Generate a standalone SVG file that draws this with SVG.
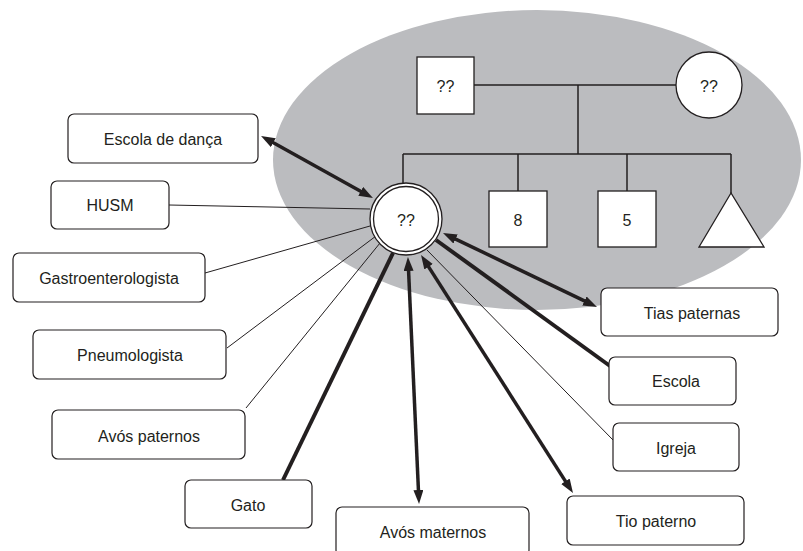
<svg xmlns="http://www.w3.org/2000/svg" width="803" height="551" viewBox="0 0 803 551">
<style>
.box{fill:#fff;stroke:#231f20;stroke-width:1.2}
.ped{fill:#fff;stroke:#231f20;stroke-width:1.3}
.pl{fill:none;stroke:#231f20;stroke-width:1.5}
.t{font-family:"Liberation Sans",Arial,sans-serif;font-size:16px;fill:#231f20;text-anchor:middle;dominant-baseline:central}
.thin{stroke:#231f20;stroke-width:1;fill:none}
.thick{stroke:#231f20;stroke-width:4;fill:none}
.arr{stroke:#231f20;stroke-width:3.5;fill:none;marker-start:url(#ah);marker-end:url(#ah)}
</style>
<defs>
<marker id="ah" markerUnits="userSpaceOnUse" markerWidth="16" markerHeight="12" refX="4" refY="5" orient="auto-start-reverse">
<path d="M0,0 L14,5 L0,10 z" fill="#231f20"/>
</marker>
</defs>
<rect width="803" height="551" fill="#fff"/>
<ellipse id="family-area" cx="537" cy="160" rx="264" ry="150" fill="#bbbcbf"/>

<g id="pedigree-lines">
<path class="pl" d="M474,85 H676 M578,85 V154 M403,154 H731 M403,154 V183 M518,154 V191 M627,154 V191 M731,154 V193"/>
</g>

<g id="connectors">
<line class="thin" x1="169" y1="205" x2="370" y2="209"/>
<line class="thin" x1="205" y1="273" x2="370" y2="226"/>
<line class="thin" x1="227" y1="348" x2="376" y2="236"/>
<line class="thin" x1="246" y1="408" x2="380" y2="243"/>
<line class="thin" x1="613" y1="440" x2="427" y2="250"/>
<line class="thick" x1="283" y1="480" x2="393" y2="253"/>
<line class="thick" x1="610" y1="366" x2="436" y2="240"/>
<line class="arr" x1="269.8" y1="140.8" x2="364.2" y2="193.2"/>
<line class="arr" x1="408.4" y1="267" x2="418.6" y2="494"/>
<line class="arr" x1="426.4" y1="263.4" x2="567.6" y2="484.6"/>
<line class="arr" x1="452" y1="237.3" x2="588" y2="302.7"/>
</g>

<g id="father"><rect class="ped" x="417" y="57" width="57" height="57"/><text class="t" x="445.5" y="86">??</text></g>
<g id="mother"><circle class="ped" cx="709" cy="85" r="33"/><text class="t" x="709" y="86">??</text></g>
<g id="ego"><circle class="ped" cx="406" cy="219" r="36"/><circle class="ped" cx="406" cy="219" r="32.5"/><text class="t" x="406" y="220">??</text></g>
<g id="sibling-8"><rect class="ped" x="489" y="191" width="58" height="56"/><text class="t" x="518" y="220">8</text></g>
<g id="sibling-5"><rect class="ped" x="598" y="191" width="58" height="56"/><text class="t" x="627" y="220">5</text></g>
<g id="sibling-unknown"><polygon class="ped" points="731,193 699,247 764,247"/></g>

<g id="escola-danca"><rect class="box" x="68" y="114" width="190" height="49" rx="6"/><text class="t" x="163" y="139">Escola de dança</text></g>
<g id="husm"><rect class="box" x="51" y="181" width="118" height="48" rx="6"/><text class="t" x="110" y="205">HUSM</text></g>
<g id="gastro"><rect class="box" x="13" y="253" width="192" height="49" rx="6"/><text class="t" x="109" y="278">Gastroenterologista</text></g>
<g id="pneumo"><rect class="box" x="33" y="330" width="193" height="49" rx="6"/><text class="t" x="130" y="355">Pneumologista</text></g>
<g id="avos-paternos"><rect class="box" x="52" y="410" width="193" height="49" rx="6"/><text class="t" x="149" y="436">Avós paternos</text></g>
<g id="gato"><rect class="box" x="185" y="480" width="127" height="48" rx="6"/><text class="t" x="248" y="505">Gato</text></g>
<g id="avos-maternos"><rect class="box" x="336" y="507" width="193" height="49" rx="6"/><text class="t" x="433" y="532">Avós maternos</text></g>
<g id="tio-paterno"><rect class="box" x="567" y="496" width="177" height="49" rx="6"/><text class="t" x="656" y="521">Tio paterno</text></g>
<g id="igreja"><rect class="box" x="613" y="423" width="126" height="48" rx="6"/><text class="t" x="676" y="448">Igreja</text></g>
<g id="escola"><rect class="box" x="609" y="357" width="127" height="48" rx="6"/><text class="t" x="676" y="381">Escola</text></g>
<g id="tias-paternas"><rect class="box" x="601" y="288" width="177" height="48" rx="6"/><text class="t" x="692" y="313">Tias paternas</text></g>
</svg>
